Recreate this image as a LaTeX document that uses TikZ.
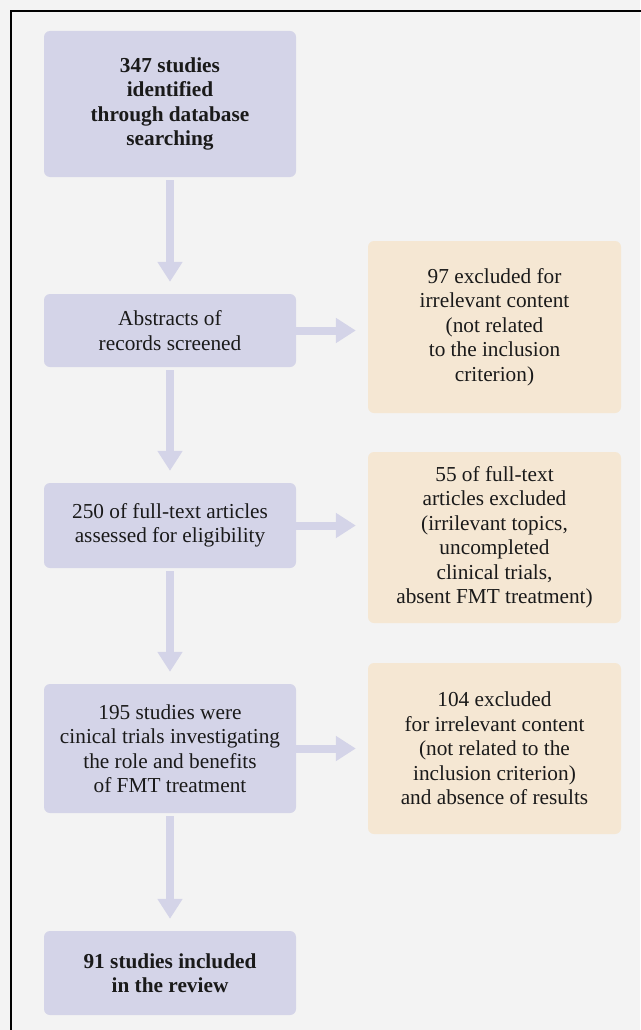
\documentclass[tikz,border=0pt]{standalone}
\usepackage{fontspec}
\setmainfont{Liberation Serif}
\usetikzlibrary{arrows.meta,positioning}
\definecolor{pagebg}{HTML}{F3F3F3}
\definecolor{stagefill}{HTML}{D4D4E8}
\definecolor{exclfill}{HTML}{F5E7D3}
\definecolor{textcol}{HTML}{1A1A1A}

\begin{document}
\begin{tikzpicture}[
x=1pt,y=-1pt,
stage/.style={
	fill=stagefill,
	rounded corners=6pt,
	minimum width=252pt,
	align=center,
	text=textcol,
	font=\fontsize{21.3}{24.5}\selectfont
},
excluded/.style={
	fill=exclfill,
	rounded corners=6pt,
	minimum width=253pt,
	minimum height=171pt,
	align=center,
	text=textcol,
	font=\fontsize{21.3}{24.5}\selectfont
},
flow/.style={
	-{Triangle[width=24pt,length=20pt]},
	draw=stagefill,
	line width=8pt,
	shorten <=3pt,
	shorten >=12pt
}
]
\fill[pagebg] (0,0) rectangle (640,1030);
\useasboundingbox (0,0) rectangle (640,1030);
\draw[line width=1.3pt] (11,11) rectangle (700,1100);

% main column
\node[stage,minimum height=146pt] (s1) at (170,104)
	{\bfseries 347 studies\\\bfseries identified\\\bfseries through database\\\bfseries searching};
\node[stage,minimum height=73pt] (s2) at (170,330.5)
	{Abstracts of\\records screened};
\node[stage,minimum height=85pt] (s3) at (170,525.5)
	{250 of full-text articles\\assessed for eligibility};
\node[stage,minimum height=129pt] (s4) at (170,748.5)
	{195 studies were\\cinical trials investigating\\the role and benefits\\of FMT treatment};
\node[stage,minimum height=84pt] (s5) at (170,973)
	{\bfseries 91 studies included\\\bfseries in the review};

% exclusions
\node[excluded,minimum height=172pt] (e1) at (494.5,327)
	{97 excluded for\\irrelevant content\\(not related\\to the inclusion\\criterion)};
\node[excluded] (e2) at (494.5,537.5)
	{55 of full-text\\articles excluded\\(irrilevant topics,\\uncompleted\\clinical trials,\\absent FMT treatment)};
\node[excluded] (e3) at (494.5,748.5)
	{104 excluded\\for irrelevant content\\(not related to the\\inclusion criterion)\\and absence of results};

\foreach \a/\b in {s1/s2,s2/s3,s3/s4,s4/s5}
\draw[flow] (\a) -- (\b);

\foreach \a/\b in {s2/e1,s3/e2,s4/e3}
\draw[flow,shorten <=0pt] (\a.east) -- (\a.east -| \b.west);
\end{tikzpicture}
\end{document}
